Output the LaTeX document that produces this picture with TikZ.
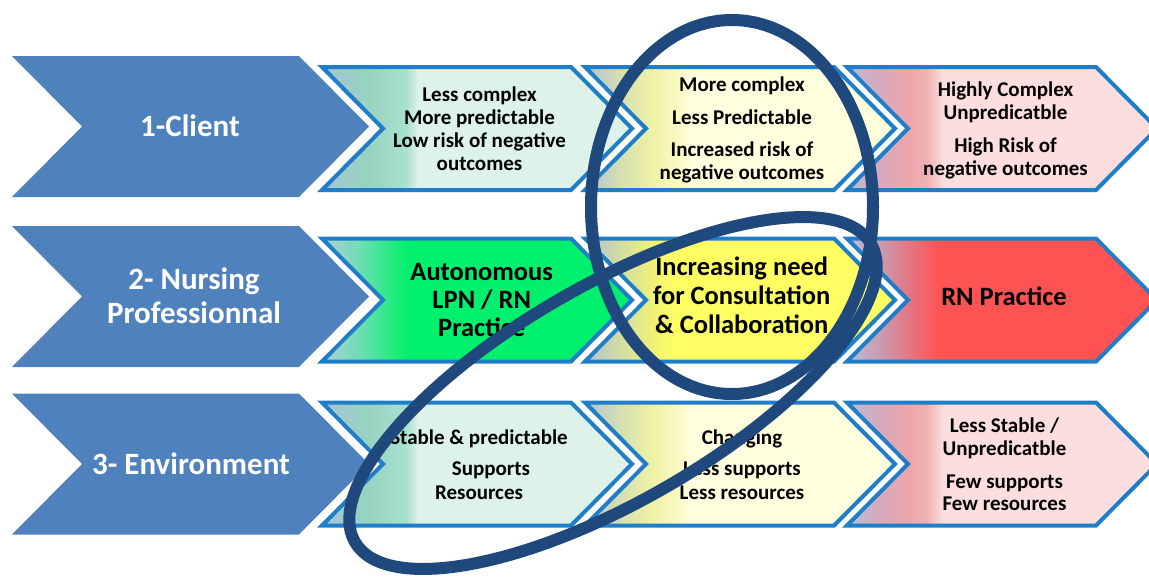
\documentclass[tikz,border=0pt]{standalone}
\usepackage{fontspec}
\setmainfont{Carlito}
\definecolor{cblue}{RGB}{79,129,189}
\definecolor{cborder}{RGB}{31,126,199}
\definecolor{cring}{RGB}{31,73,125}
% horizontal shadings: path bounding box maps to 25bp..75bp
\pgfdeclarehorizontalshading{gLight}{100bp}{rgb(0bp)=(.647,.765,.843); rgb(25bp)=(.647,.765,.843); rgb(32.5bp)=(.588,.831,.753); rgb(38.5bp)=(.659,.878,.812); rgb(40.5bp)=(.867,.949,.910); rgb(100bp)=(.867,.949,.910)}
\pgfdeclarehorizontalshading{yLight}{100bp}{rgb(0bp)=(.686,.765,.843); rgb(25bp)=(.686,.765,.843); rgb(31bp)=(.843,.882,.686); rgb(36bp)=(.941,.949,.647); rgb(40bp)=(.980,.980,.765); rgb(42bp)=(1,1,.871); rgb(100bp)=(1,1,.871)}
\pgfdeclarehorizontalshading{rLight}{100bp}{rgb(0bp)=(.725,.745,.843); rgb(25bp)=(.725,.745,.843); rgb(30bp)=(.831,.667,.745); rgb(35bp)=(.933,.647,.675); rgb(38bp)=(.941,.698,.706); rgb(40.5bp)=(.988,.871,.871); rgb(100bp)=(.988,.871,.871)}
\pgfdeclarehorizontalshading{gBright}{100bp}{rgb(0bp)=(.686,.804,.843); rgb(25bp)=(.686,.804,.843); rgb(31bp)=(.431,.871,.706); rgb(36bp)=(.157,.922,.510); rgb(39bp)=(0,.941,.431); rgb(100bp)=(0,.941,.431)}
\pgfdeclarehorizontalshading{yBright}{100bp}{rgb(0bp)=(.706,.765,.824); rgb(25bp)=(.706,.765,.824); rgb(32.5bp)=(.863,.894,.588); rgb(37bp)=(.961,.961,.431); rgb(40bp)=(1,1,.392); rgb(100bp)=(1,1,.392)}
\pgfdeclarehorizontalshading{rBright}{100bp}{rgb(0bp)=(.725,.745,.843); rgb(25bp)=(.725,.745,.843); rgb(31bp)=(.804,.588,.667); rgb(36bp)=(.922,.431,.471); rgb(40bp)=(1,.322,.322); rgb(100bp)=(1,.322,.322)}
% #1 options, #2 left x, #3 top y, #4 half height, #5 depth, #6 length
\newcommand{\chevshape}[6]{%
  \path[#1] (#2,#3) -- ++({#6-#5},0) -- ++(#5,#4) -- ++(-#5,#4) -- ++({-(#6-#5)},0) -- ++(#5,-#4) -- cycle;}
\tikzset{
  bluechev/.style={fill=cblue},
  colchev/.style={shade, shading=#1, draw=cborder, line width=4pt, line join=miter},
  lbl/.style={font=\bfseries\fontsize{31}{34}\selectfont, text=white, align=center, inner sep=0pt},
  smalltxt/.style={font=\bfseries\fontsize{21}{#1}\selectfont, text=black, align=center, inner sep=0pt},
  bigtxt/.style={font=\bfseries\fontsize{26.5}{#1}\selectfont, text=black, align=center, inner sep=0pt},
  ring/.style={draw=cring, line width=12pt},
}
\begin{document}
\begin{tikzpicture}[x=1pt, y=-1pt]
\clip (0,0) rectangle (1149,579);
\fill[white] (0,0) rectangle (1149,579);
% left blue chevrons
\chevshape{bluechev}{12}{56}{70.5}{70}{357}
\chevshape{bluechev}{12}{226}{70.5}{70}{357}
\chevshape{bluechev}{12}{393.5}{70.5}{70}{357}
% row 1
\chevshape{colchev=gLight}{322}{67}{61.5}{61}{310}
\chevshape{colchev=yLight}{585}{67}{61.5}{61}{310}
\chevshape{colchev=rLight}{847}{67}{61.5}{61}{310}
% row 2
\chevshape{colchev=gBright}{322}{238.5}{61.5}{61}{310}
\chevshape{colchev=yBright}{585}{238.5}{61.5}{61}{310}
\chevshape{colchev=rBright}{847}{238.5}{61.5}{61}{310}
% row 3
\chevshape{colchev=gLight}{322}{402.5}{61.5}{61}{310}
\chevshape{colchev=yLight}{585}{402.5}{61.5}{61}{310}
\chevshape{colchev=rLight}{847}{402.5}{61.5}{61}{310}
% labels
\node[lbl, anchor=base] (client) at (190,136.7) {1-Client};
\node[lbl] (nursing) at (194,300) {\strut 2- Nursing\\Professionnal\strut};
\node[lbl, anchor=base] (env) at (191,474.3) {3- Environment};
% row 1 texts
\node[smalltxt=23] (g1) at (479.5,131.5) {\strut Less complex\\More predictable\\Low risk of negative\\outcomes\strut};
\node[smalltxt=22.5] (y1) at (742,131) {\strut More complex\\[10pt]Less Predictable\\[10pt]Increased risk of\\negative outcomes\strut};
\node[smalltxt=22.7] (r1) at (1005.5,131.2) {\strut Highly Complex\\Unpredicatble\\[10.5pt]High Risk of\\negative outcomes\strut};
% row 2 texts
\node[bigtxt=28] (g2) at (481.7,303) {\strut Autonomous\\LPN / RN\\Practice\strut};
\node[bigtxt=29] (y2) at (741.7,299) {\strut Increasing need\\for Consultation\\\& Collaboration\strut};
\node[bigtxt=29] (r2) at (1004,299.2) {\strut RN Practice\strut};
% row 3 texts
\node[smalltxt=23.4] (g3) at (479,467.3) {\strut Stable \& predictable\\[8pt]\hspace*{24pt}Supports\\Resources\strut};
\node[smalltxt=23.4] (y3) at (742,467.3) {\strut Changing\\[8pt]Less supports\\Less resources\strut};
\node[smalltxt=22.5] (r3) at (1004.5,467) {\strut Less Stable /\\Unpredicatble\\[10.5pt]Few supports\\Few resources\strut};
% rings
\draw[ring] (732,207) ellipse [x radius=141pt, y radius=187pt];
\draw[ring, rotate around={30:(613,393)}] (613,393) ellipse [x radius=298pt, y radius=108pt];
\end{tikzpicture}
\end{document}
